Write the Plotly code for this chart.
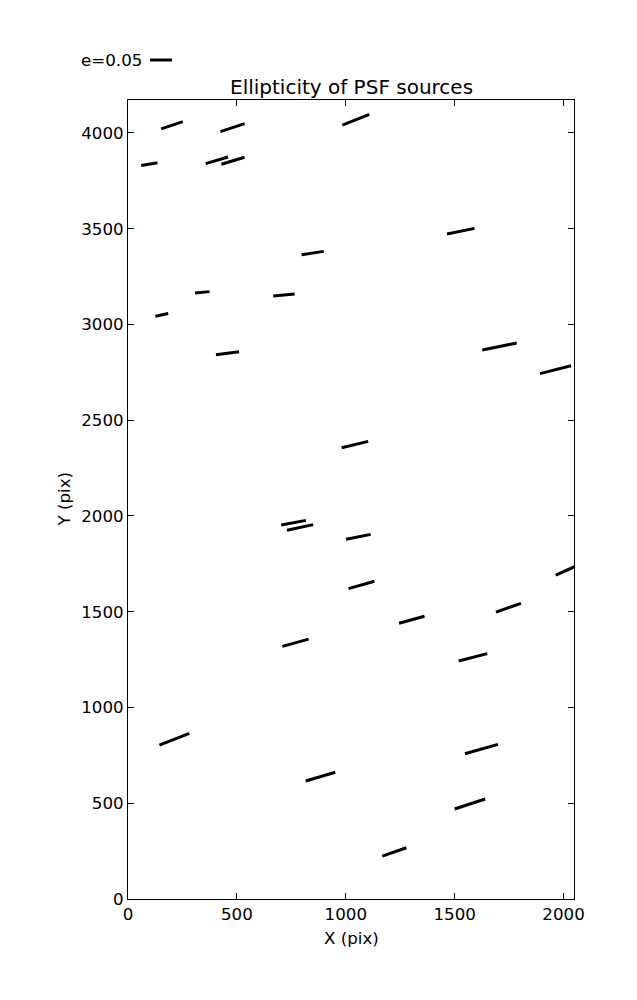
import math
import plotly.graph_objects as go

# Source centres (pix), ellipticity and position angle (deg, display)
x_center = [202, 480, 1046, 98, 408, 482, 1528, 848, 341, 716, 155,
            457, 1706, 1963, 1042, 760, 790, 1058, 2027, 1072, 1747,
            1303, 769, 1584, 213, 1623, 884, 1570, 1223]
y_center = [4040, 4028, 4069, 3837, 3857, 3855, 3487, 3373, 3168, 3154, 3050,
            2850, 2885, 2764, 2373, 1965, 1940, 1891, 1723, 1640, 1521,
            1458, 1338, 1262, 834, 783, 639, 496, 246]
ellipticity = [0.052, 0.058, 0.066, 0.0375, 0.053, 0.055, 0.064, 0.051, 0.033, 0.049, 0.030,
               0.053, 0.080, 0.073, 0.062, 0.057, 0.061, 0.057, 0.068, 0.061, 0.060,
               0.060, 0.062, 0.067, 0.073, 0.078, 0.070, 0.073, 0.058]
angle_deg = [18.6, 18.2, 21.6, 9.3, 16.6, 16.7, 11.6, 8.5, 5.2, 5.4, 11.6,
             7.4, 11.4, 14.3, 13.4, 10.7, 12.1, 11.4, 24.0, 16.0, 19.2,
             15.5, 15.5, 14.4, 21.3, 15.8, 16.3, 18.0, 19.1]

x_ticks = [0, 500, 1000, 1500, 2000]
y_ticks = [0, 500, 1000, 1500, 2000, 2500, 3000, 3500, 4000]
legend_e = 0.05

OFF = 8  # page body margin
W, H = 637 - OFF, 1000 - OFF
ML, MR, MT, MB = 128 - OFF, 63, 100 - OFF, 101
X_MAX, Y_MAX = 2048, 4172
PW, PH = W - ML - MR, H - MT - MB
px_per_x = PW / X_MAX
px_per_y = PH / Y_MAX
SCALE_PX = 440.0  # display pixels per unit ellipticity

# absolute screen positions of plot frame
LEFT, BOTTOM = 128, 899

xs, ys = [], []
for xc, yc, e, a in zip(x_center, y_center, ellipticity, angle_deg):
    half = e * SCALE_PX / 2.0
    dx = half * math.cos(math.radians(a)) / px_per_x
    dy = half * math.sin(math.radians(a)) / px_per_y
    xs += [xc - dx, xc + dx, None]
    ys += [yc - dy, yc + dy, None]

FONT = "DejaVu Sans"
fig = go.Figure()
fig.add_trace(go.Scatter(x=xs, y=ys, mode="lines",
                         line=dict(color="black", width=3),
                         showlegend=False, hoverinfo="skip"))

axis_common = dict(showline=True, linecolor="black", linewidth=1, mirror="ticks",
                   ticks="inside", ticklen=6, tickcolor="black", tickwidth=1,
                   showgrid=False, zeroline=False,
                   tickfont=dict(family=FONT, size=16.7, color="black"))
fig.update_xaxes(range=[0, X_MAX], tickvals=x_ticks, ticktext=[str(v) for v in x_ticks],
                 **axis_common)
fig.update_yaxes(range=[0, Y_MAX], tickvals=y_ticks, ticktext=[str(v) for v in y_ticks],
                 **axis_common)

# Title and axis labels
fig.add_annotation(text="Ellipticity of PSF sources", xref="paper", yref="paper",
                   x=0.5, y=(BOTTOM - 87) / PH, xanchor="center", yanchor="middle",
                   showarrow=False, font=dict(family=FONT, size=20, color="black"))
fig.add_annotation(text="X (pix)", xref="paper", yref="paper",
                   x=0.5, y=-(938 - BOTTOM) / PH, xanchor="center", yanchor="middle",
                   showarrow=False, font=dict(family=FONT, size=16.7, color="black"))
fig.add_annotation(text="Y (pix)", xref="paper", yref="paper",
                   x=-(LEFT - 63) / PW, y=0.5, xanchor="center", yanchor="middle",
                   textangle=-90, showarrow=False,
                   font=dict(family=FONT, size=16.7, color="black"))

# Scale key: e=0.05
key_len = legend_e * SCALE_PX
key_x0 = (150 - LEFT) / PW
key_y = (BOTTOM - 60) / PH
fig.add_annotation(text="e=0.05", xref="paper", yref="paper",
                   x=key_x0 - 6 / PW, y=key_y, xanchor="right", yanchor="middle",
                   showarrow=False, font=dict(family=FONT, size=16.7, color="black"))
fig.add_shape(type="line", xref="paper", yref="paper",
              x0=key_x0, x1=key_x0 + key_len / PW, y0=key_y, y1=key_y,
              line=dict(color="black", width=3))

fig.update_layout(width=W, height=H, autosize=False,
                  margin=dict(l=ML, r=MR, t=MT, b=MB, pad=0),
                  paper_bgcolor="white", plot_bgcolor="white",
                  showlegend=False)

fig.write_html("out.html")
